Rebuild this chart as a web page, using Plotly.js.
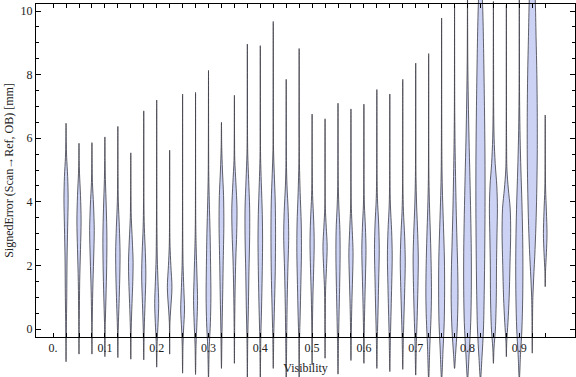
<!DOCTYPE html>
<html><head><meta charset="utf-8">
<script src="https://cdn.plot.ly/plotly-3.0.1.min.js"></script>
<style>html,body{margin:0;padding:0;background:#fff}</style>
</head><body>
<div id="chart" style="width:576px;height:377px"></div>
<script>
// Violin positions (Visibility)
const positions = [0.025,0.05,0.075,0.1,0.125,0.15,0.175,0.2,0.225,0.25,0.275,0.3,0.325,0.35,0.375,0.4,0.425,0.45,0.475,0.5,
  0.525,0.55,0.575,0.6,0.625,0.65,0.675,0.7,0.725,0.75,0.775,0.8,0.825,0.85,0.875,0.9,0.925,0.95];
// lower / upper tail ends (SignedError, mm)
const lows = [-1.03,-0.79,-0.79,-0.87,-0.9,-0.95,-0.97,-1.2,-0.79,-1.39,-1.43,-1.6,-1.24,-1.08,-1.6,-1.6,-1.24,-1.6,-1.6,-1.13,
  -0.92,-1.42,-0.99,-1.08,-1.24,-1.34,-1.27,-1.45,-1.6,-1.6,-1.24,-1.6,-1.6,-1.08,-0.87,-1.6,-0.76,1.33];
const highs = [6.47,5.84,5.86,6.04,6.37,5.54,6.86,7.2,5.62,7.39,7.44,8.13,6.5,7.35,8.96,8.91,9.67,7.85,8.82,6.76,
  6.61,7.1,6.92,7.07,7.53,7.39,7.85,8.36,8.66,9.78,10.16,10.8,11.2,10.3,10.19,10.8,11.5,6.73];
// density profile of each violin: [error value, relative density]
const densities = [
  [[0.0,0.3],[1.0,0.7],[2.2,1.0],[3.2,1.6],[4.1,2.1],[4.8,1.6],[5.4,0.6],[5.9,0.2]],
  [[0.3,0.3],[1.5,0.7],[2.5,1.5],[3.4,2.1],[4.2,1.5],[4.9,0.5],[5.3,0.2]],
  [[0.2,0.3],[1.2,0.8],[2.2,1.7],[3.1,2.3],[3.9,1.6],[4.6,0.5],[5.2,0.2]],
  [[0.2,0.4],[1.0,1.1],[2.0,1.8],[2.9,2.0],[3.8,1.4],[4.7,0.5],[5.3,0.2]],
  [[0.0,0.4],[0.8,1.2],[1.6,1.9],[2.4,2.2],[3.2,1.5],[4.0,0.5],[4.8,0.2]],
  [[0.0,0.4],[0.8,1.2],[1.5,2.0],[2.1,2.3],[2.8,1.5],[3.5,0.5],[4.2,0.2]],
  [[0.0,0.5],[0.8,1.3],[1.7,2.1],[2.4,1.6],[3.2,0.6],[4.0,0.2]],
  [[-0.4,0.5],[0.2,1.4],[0.8,2.0],[1.5,1.3],[2.2,0.6],[3.0,0.3],[4.0,0.15]],
  [[0.2,0.3],[0.6,1.0],[1.3,2.3],[2.0,1.2],[2.6,0.4],[3.2,0.15]],
  [[-0.5,0.4],[0.0,1.0],[0.6,1.9],[1.3,1.2],[2.0,0.5],[2.8,0.2]],
  [[-0.5,0.5],[0.2,1.4],[0.9,2.0],[1.7,1.4],[2.6,0.6],[3.4,0.2]],
  [[-0.6,0.7],[0.2,1.9],[1.0,2.4],[2.0,2.1],[3.0,1.6],[4.0,0.8],[4.8,0.3],[5.6,0.15]],
  [[0.0,0.6],[1.0,1.2],[2.0,1.7],[3.3,2.4],[4.2,2.1],[5.0,1.0],[5.7,0.3]],
  [[0.2,0.3],[1.2,0.7],[2.2,1.4],[3.0,2.3],[3.8,2.6],[4.6,1.5],[5.3,0.4],[6.0,0.15]],
  [[-0.3,0.4],[0.6,1.0],[1.8,1.6],[2.9,2.3],[3.8,2.3],[4.7,1.3],[5.5,0.4],[6.3,0.15]],
  [[-0.3,0.5],[0.6,1.2],[1.7,1.9],[2.8,2.3],[3.6,2.0],[4.6,1.0],[5.4,0.3],[6.2,0.15]],
  [[-0.2,0.5],[0.7,1.2],[1.8,2.0],[3.0,2.3],[4.0,2.0],[4.9,1.0],[5.6,0.3],[6.5,0.15]],
  [[-0.3,0.5],[0.7,0.9],[1.8,1.6],[2.9,2.5],[3.7,2.0],[4.5,0.8],[5.3,0.2]],
  [[-0.3,0.4],[0.4,1.0],[1.4,1.7],[2.4,2.3],[3.3,2.1],[4.3,1.0],[5.2,0.3],[6.0,0.15]],
  [[0.0,0.3],[1.0,0.8],[1.9,1.6],[2.7,2.1],[3.4,1.6],[4.2,0.5],[5.0,0.15]],
  [[0.3,0.25],[1.2,0.5],[1.9,1.4],[2.6,2.1],[3.2,1.2],[3.8,0.3],[4.5,0.1]],
  [[-0.4,0.5],[0.4,1.0],[1.3,1.6],[2.3,2.1],[3.1,1.9],[3.9,0.8],[4.7,0.2]],
  [[0.0,0.4],[0.8,0.9],[1.6,1.6],[2.4,2.1],[3.1,1.3],[3.8,0.4],[4.5,0.15]],
  [[0.0,0.4],[0.8,0.9],[1.7,1.6],[2.5,2.1],[3.2,1.5],[3.9,0.5],[4.6,0.15]],
  [[-0.3,0.5],[0.6,1.2],[1.5,1.8],[2.5,2.4],[3.3,1.8],[4.1,0.6],[4.9,0.2]],
  [[-0.3,0.6],[0.6,1.3],[1.4,1.9],[2.3,2.4],[3.1,1.8],[3.9,0.6],[4.7,0.2]],
  [[-0.3,0.6],[0.5,1.3],[1.3,2.0],[2.1,2.5],[2.9,1.9],[3.7,0.7],[4.5,0.2]],
  [[-0.4,0.7],[0.4,1.5],[1.3,2.2],[2.2,2.6],[3.0,2.0],[3.9,0.9],[4.8,0.3],[5.6,0.15]],
  [[-0.5,1.2],[0.3,2.3],[1.1,2.8],[2.0,2.5],[2.9,1.8],[3.8,0.9],[4.7,0.3],[5.6,0.15]],
  [[-0.6,1.5],[0.2,2.6],[1.2,3.0],[2.2,2.8],[3.2,1.9],[4.2,0.9],[5.0,0.4],[6.0,0.2]],
  [[-0.8,1.0],[0.0,2.6],[0.9,3.4],[1.8,3.2],[2.8,2.4],[3.8,1.6],[4.8,1.0],[5.8,0.5],[6.8,0.2]],
  [[-0.8,1.6],[0.2,3.2],[1.2,3.8],[2.4,3.8],[3.6,3.2],[4.8,2.4],[6.0,1.5],[7.2,0.8],[8.4,0.3],[9.4,0.15]],
  [[-0.9,1.5],[0.0,3.0],[1.2,3.8],[2.5,4.3],[4.0,4.6],[5.5,4.5],[7.0,4.0],[8.5,3.3],[9.8,2.5],[10.6,1.6]],
  [[-0.6,0.6],[0.0,2.0],[1.0,2.9],[2.0,3.1],[3.0,3.6],[3.8,4.0],[4.5,3.4],[5.2,1.8],[6.0,0.7],[7.0,0.25],[8.5,0.15]],
  [[-0.4,0.4],[0.2,1.6],[1.0,2.8],[2.0,3.6],[3.0,4.3],[3.8,3.8],[4.4,2.0],[5.0,0.6],[6.0,0.2]],
  [[-0.8,1.2],[0.0,2.6],[1.0,3.4],[2.0,3.6],[3.0,3.3],[4.0,2.6],[5.0,1.6],[6.0,0.8],[7.0,0.35],[8.0,0.15]],
  [[0.0,0.2],[1.0,0.6],[1.6,1.4],[2.5,2.8],[3.5,3.9],[4.5,4.6],[5.5,5.0],[6.8,5.0],[8.0,4.6],[9.2,3.8],[10.35,3.0],[11.0,2.0]],
  [[1.8,0.3],[2.4,1.2],[3.0,1.8],[3.7,1.2],[4.4,0.4],[5.2,0.15]]
];
const xTickLabelValues = [0,0.1,0.2,0.3,0.4,0.5,0.6,0.7,0.8,0.9];
const xTickLabels = ["0.","0.1","0.2","0.3","0.4","0.5","0.6","0.7","0.8","0.9"];
const yTickValues = [0,2,4,6,8,10];

const W = 576, H = 377;
const xVisRange = [-0.033, 1.0075], yVisRange = [-0.2516, 10.22];
const xDom = [36/W, 575/W], yDom = [(H-337)/H, (H-4)/H];
function fullRange(r, d){ const s=(r[1]-r[0])/(d[1]-d[0]); return [r[0]-d[0]*s, r[1]+(1-d[1])*s]; }
const xFull = fullRange(xVisRange, xDom), yFull = fullRange(yVisRange, yDom);
const kx = (xVisRange[1]-xVisRange[0])/((xDom[1]-xDom[0])*W); // data units per px

const traces = [];
positions.forEach((p, i) => {
  const pts = [[lows[i],0]].concat(densities[i], [[highs[i],0]]);
  const xs = [], ys = [];
  pts.forEach(q => { xs.push(p + q[1]*kx); ys.push(q[0]); });
  for (let j = pts.length-2; j >= 0; j--) { xs.push(p - pts[j][1]*kx); ys.push(pts[j][0]); }
  traces.push({type:'scatter', mode:'lines', x:xs, y:ys, xaxis:'x', yaxis:'y',
    fill:'toself', fillcolor:'rgb(203,210,243)',
    line:{color:'rgba(60,60,70,0.8)', width:1, shape:'spline', smoothing:0.9},
    hoverinfo:'skip', showlegend:false});
});
traces.push({type:'scatter', mode:'markers', x:[0.5], y:[5], xaxis:'x2', yaxis:'y2',
  marker:{opacity:0}, hoverinfo:'skip', showlegend:false});

const xTickVals = [0].concat(positions);
const xTickText = xTickVals.map(v => { const k = xTickLabelValues.findIndex(t => Math.abs(t-v)<1e-9); return k>=0 ? xTickLabels[k] : ''; });
const font = {family:'"Liberation Serif", "Times New Roman", serif', size:12, color:'#222'};

const layout = {
  width:W, height:H, margin:{l:0,r:0,t:0,b:0},
  paper_bgcolor:'#fff', plot_bgcolor:'rgba(0,0,0,0)', font:font, showlegend:false,
  xaxis:{domain:[0,1], range:xFull, visible:false, fixedrange:true},
  yaxis:{domain:[0,1], range:yFull, visible:false, fixedrange:true},
  xaxis2:{domain:xDom, range:xVisRange, anchor:'y2', showgrid:false, zeroline:false,
    showline:true, linecolor:'#000', linewidth:1, mirror:'allticks',
    ticks:'inside', ticklen:4, tickcolor:'#000', tickmode:'array', tickvals:xTickVals, ticktext:xTickText,
    tickfont:font, title:{text:'Visibility', font:font, standoff:9}},
  yaxis2:{domain:yDom, range:yVisRange, anchor:'x2', showgrid:false, zeroline:false,
    showline:true, linecolor:'#000', linewidth:1, mirror:'allticks',
    ticks:'inside', ticklen:5, tickcolor:'#000', tickmode:'array', tickvals:yTickValues,
    minor:{dtick:0.5, ticklen:3, tickcolor:'#000', ticks:'inside', showgrid:false},
    tickfont:font, title:{text:'SignedError (Scan→Ref, OB) [mm]', font:font, standoff:4}}
};
Plotly.newPlot('chart', traces, layout, {staticPlot:true, displayModeBar:false});
</script>
</body></html>
